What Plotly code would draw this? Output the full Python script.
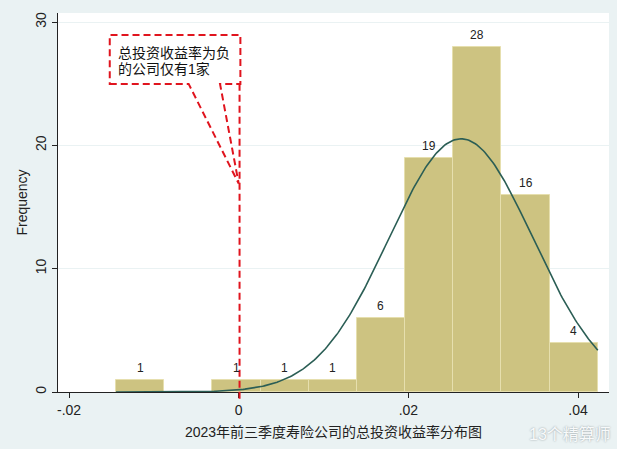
import numpy as np
import plotly.graph_objects as go

# ---- data ----
bin_start = -0.01447          # left edge of the first histogram bin
bin_width = 0.00568           # width of every bin
counts = [1, 0, 1, 1, 1, 6, 19, 28, 16, 4]
normal_mean = 0.0262          # fitted normal curve
normal_sd = 0.0085
x_tick_vals = [-0.02, 0, 0.02, 0.04]
x_tick_text = ["-.02", "0", ".02", ".04"]
y_tick_vals = [0, 10, 20, 30]
y_tick_text = ["0", "10", "20", "30"]
x_title = "2023年前三季度寿险公司的总投资收益率分布图"
y_title = "Frequency"
note_lines = ["总投资收益率为负", "的公司仅有1家"]
watermark = "13个精算师"

n_obs = sum(counts)
edges = [bin_start + i * bin_width for i in range(len(counts) + 1)]
centers = [(edges[i] + edges[i + 1]) / 2 for i in range(len(counts))]

xs = np.linspace(edges[0], edges[-1], 300)
ys = n_obs * bin_width / (normal_sd * np.sqrt(2 * np.pi)) * np.exp(-0.5 * ((xs - normal_mean) / normal_sd) ** 2)

FONT = "Arial, 'Liberation Sans', 'Noto Sans CJK SC', sans-serif"
RED = "#e0141e"
BG = "#eaf2f3"

fig = go.Figure()
fig.add_trace(go.Bar(
    x=centers, y=counts, width=[bin_width] * len(counts),
    marker=dict(color="#cdc381", line=dict(color="#e6dfae", width=1)),
    showlegend=False, hoverinfo="skip",
))
fig.add_trace(go.Scatter(
    x=xs, y=ys, mode="lines", line=dict(color="#2b5e55", width=1.6),
    showlegend=False, hoverinfo="skip",
))

# count labels above the bars
for cx, c in zip(centers, counts):
    if c > 0:
        fig.add_annotation(x=cx, y=c, xref="x", yref="y", text=str(c), showarrow=False,
                           yanchor="bottom", yshift=3,
                           font=dict(size=12, color="#222", family=FONT))

# callout box with pointer (data coordinates)
xL, xR = -0.0152, 0.0002
yB, yT = 24.98, 28.95
xa, xb = -0.0059, -0.0022
tip_y = 16.9
path = (f"M {xL},{yB} L {xa},{yB} L 0,{tip_y} L {xb},{yB} L {xR},{yB} "
        f"L {xR},{yT} L {xL},{yT} Z")
fig.add_shape(type="path", path=path, xref="x", yref="y",
              line=dict(color=RED, width=2, dash="7px,4px"), fillcolor="white", layer="above")
# vertical red dashed line at 0
fig.add_shape(type="line", xref="x", yref="paper", x0=0.0001, x1=0.0001, y0=-0.018, y1=yB / 30.73,
              line=dict(color=RED, width=2, dash="7px,4px"), layer="above")

for i, line in enumerate(note_lines):
    fig.add_annotation(x=xL + 0.0007, y=27.5 - i * 1.3, xref="x", yref="y", text=line,
                       showarrow=False, xanchor="left", yanchor="middle",
                       font=dict(size=14, color="#111", family=FONT))

fig.add_annotation(x=1.0, y=-0.11, xref="paper", yref="paper", text=watermark,
                   showarrow=False, xanchor="right", yanchor="middle", xshift=4,
                   font=dict(size=16, color="#f8fafb", family=FONT, shadow="0px 0px 2px #8d979b"))

fig.update_layout(
    width=617, height=449,
    margin=dict(l=58, r=8, t=13, b=57),
    paper_bgcolor=BG, plot_bgcolor="white",
    bargap=0, font=dict(family=FONT, color="#222"),
    xaxis=dict(range=[-0.0213, 0.04365], tickvals=x_tick_vals, ticktext=x_tick_text,
               ticks="outside", ticklen=5, tickcolor="#222", showgrid=False, zeroline=False,
               showline=True, linecolor="#222", linewidth=1, automargin=False,
               tickfont=dict(size=14, color="#222"),
               title=dict(text=x_title, font=dict(size=14, color="#222"), standoff=10)),
    yaxis=dict(range=[0, 30.73], tickvals=y_tick_vals, ticktext=y_tick_text, tickangle=-90,
               ticks="outside", ticklen=5, tickcolor="#222", showgrid=True, gridcolor=BG,
               zeroline=False, showline=True, linecolor="#222", linewidth=1, automargin=False,
               tickfont=dict(size=14, color="#222"),
               title=dict(text=y_title, font=dict(size=14, color="#222"), standoff=2)),
)

fig.write_html("out.html", config={"displayModeBar": False},
               post_script=f"document.body.style.margin='0';document.body.style.background='{BG}';")
